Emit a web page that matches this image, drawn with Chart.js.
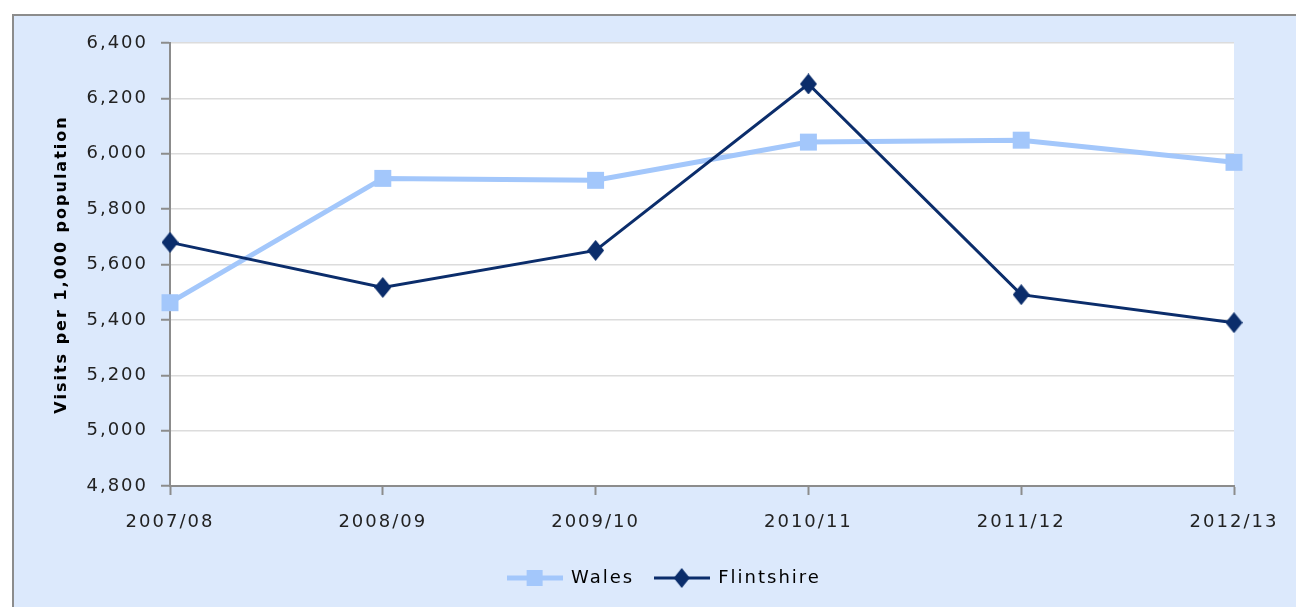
<!DOCTYPE html>
<html>
<head>
<meta charset="utf-8">
<script src="https://cdn.jsdelivr.net/npm/chart.js@4/dist/chart.umd.min.js"></script>
<style>
  html, body { margin: 0; padding: 0; background: #ffffff; }
  #wrap { width: 1296px; height: 607px; }
</style>
</head>
<body>
<div id="wrap"><canvas id="chart" width="1296" height="607"></canvas></div>
<script>
// Categories and series
const years = ['2007/08', '2008/09', '2009/10', '2010/11', '2011/12', '2012/13'];
const wales = [5462, 5911, 5904, 6042, 6049, 5969];
const flintshire = [5680, 5517, 5651, 6252, 5491, 5390];

// Value axis
const yMin = 4800;
const yMax = 6400;
const yStep = 200;

const WALES_COLOR = '#a3c7fb';
const FLINT_COLOR = '#0b2d6b';
const PANEL_BG = '#dce9fc';
const AXIS_GREY = '#8c8c8c';
const FONT = 'DejaVu Sans';

// Tall diamond marker used for the Flintshire points
function diamondMarker(color, w, h) {
  const c = document.createElement('canvas');
  c.width = w; c.height = h;
  const g = c.getContext('2d');
  g.fillStyle = color;
  g.beginPath();
  g.moveTo(w / 2, 0); g.lineTo(w, h / 2); g.lineTo(w / 2, h); g.lineTo(0, h / 2);
  g.closePath(); g.fill();
  return c;
}
const flintMarker = diamondMarker(FLINT_COLOR, 17, 21);

// Legend icons: a short line with the series marker in its middle
function legendIcon(color, lineWidth, marker) {
  const c = document.createElement('canvas');
  c.width = 56; c.height = 22;
  const g = c.getContext('2d');
  g.strokeStyle = color;
  g.lineWidth = lineWidth;
  g.beginPath();
  g.moveTo(0, 11); g.lineTo(56, 11);
  g.stroke();
  g.fillStyle = color;
  if (marker === 'square') {
    g.fillRect(20, 3, 16, 16);
  } else {
    g.beginPath();
    g.moveTo(28, 1); g.lineTo(36, 11); g.lineTo(28, 21); g.lineTo(20, 11);
    g.closePath(); g.fill();
  }
  return c;
}
const legendIcons = [
  legendIcon(WALES_COLOR, 5, 'square'),
  legendIcon(FLINT_COLOR, 3, 'diamond')
];

// Slightly tracked-out lettering for all chart text
const tracking = {
  id: 'tracking',
  beforeUpdate(chart) { chart.ctx.letterSpacing = '2px'; },
  beforeLayout(chart) { chart.ctx.letterSpacing = '2px'; },
  beforeDraw(chart) { chart.ctx.letterSpacing = '2px'; }
};

// Panel background, frame and white plot area
const panel = {
  id: 'panel',
  beforeDraw(chart) {
    const ctx = chart.ctx;
    const a = chart.chartArea;
    ctx.save();
    ctx.fillStyle = '#ffffff';
    ctx.fillRect(0, 0, chart.width, chart.height);
    ctx.fillStyle = PANEL_BG;
    ctx.fillRect(12, 14, chart.width - 12, chart.height - 14);
    ctx.strokeStyle = AXIS_GREY;
    ctx.lineWidth = 2;
    ctx.beginPath();
    ctx.moveTo(13, chart.height);
    ctx.lineTo(13, 15);
    ctx.lineTo(chart.width, 15);
    ctx.stroke();
    ctx.fillStyle = '#ffffff';
    ctx.fillRect(a.left, a.top, a.right - a.left, a.bottom - a.top);
    ctx.restore();
  }
};

new Chart(document.getElementById('chart'), {
  type: 'line',
  data: {
    labels: years,
    datasets: [
      {
        label: 'Wales',
        data: wales,
        borderColor: WALES_COLOR,
        backgroundColor: WALES_COLOR,
        borderWidth: 5,
        pointStyle: 'rect',
        pointRadius: 12,
        pointHoverRadius: 12,
        pointBorderWidth: 0,
        tension: 0,
        clip: false,
        order: 1
      },
      {
        label: 'Flintshire',
        data: flintshire,
        borderColor: FLINT_COLOR,
        backgroundColor: FLINT_COLOR,
        borderWidth: 3,
        pointStyle: flintMarker,
        pointRadius: 10,
        pointHoverRadius: 10,
        pointBorderWidth: 0,
        tension: 0,
        clip: false,
        order: 0
      }
    ]
  },
  options: {
    responsive: false,
    animation: false,
    devicePixelRatio: 1,
    layout: { padding: { left: 32, right: 0, top: 43, bottom: 10 } },
    plugins: {
      tooltip: { enabled: false },
      legend: {
        position: 'bottom',
        align: 'center',
        labels: {
          usePointStyle: true,
          pointStyleWidth: 55,
          padding: 20,
          color: '#000000',
          font: { family: FONT, size: 18 },
          sort: (a, b) => a.datasetIndex - b.datasetIndex,
          generateLabels(chart) {
            const items = Chart.defaults.plugins.legend.labels.generateLabels(chart);
            items.forEach(it => { it.pointStyle = legendIcons[it.datasetIndex]; });
            return items;
          }
        }
      }
    },
    scales: {
      x: {
        type: 'category',
        offset: false,
        grid: {
          drawOnChartArea: false,
          drawTicks: true,
          tickLength: 9,
          tickColor: AXIS_GREY,
          tickWidth: 2
        },
        border: { color: AXIS_GREY, width: 2 },
        ticks: {
          color: '#222222',
          padding: 17,
          maxRotation: 0,
          font: { family: FONT, size: 18 }
        },
        afterFit(scale) { scale.height = 63; }
      },
      y: {
        position: 'left',
        min: yMin,
        max: yMax,
        grid: {
          color: '#dcdcdc',
          lineWidth: 1.5,
          drawTicks: true,
          tickLength: 9,
          tickColor: AXIS_GREY,
          tickWidth: 2
        },
        border: { color: AXIS_GREY, width: 2 },
        ticks: {
          stepSize: yStep,
          color: '#222222',
          padding: 13,
          font: { family: FONT, size: 18 },
          callback: v => v.toLocaleString('en-US')
        },
        title: {
          display: true,
          text: 'Visits per 1,000 population',
          color: '#000000',
          padding: { top: 20, bottom: 0 },
          font: { family: FONT, size: 16, weight: 'bold' }
        },
        afterFit(scale) { scale.width = 138; }
      },
      spacer: {
        type: 'linear',
        position: 'right',
        display: true,
        grid: { display: false, drawTicks: false },
        border: { display: false },
        ticks: { display: false },
        afterFit(scale) { scale.width = 62; }
      }
    }
  },
  plugins: [tracking, panel]
});
</script>
</body>
</html>
